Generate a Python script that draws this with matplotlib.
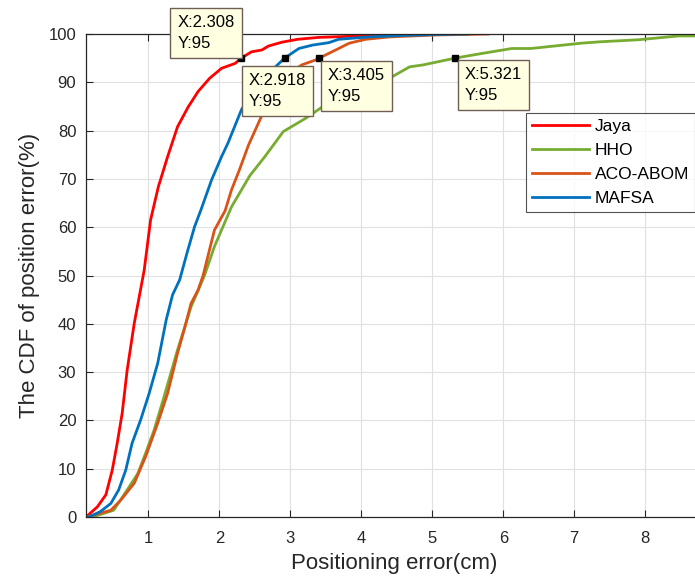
import matplotlib
matplotlib.use("Agg")
import matplotlib.pyplot as plt

plt.rcParams['font.family'] = ['Liberation Sans', 'DejaVu Sans']

# ---- data ----
jaya_x = [0.12, 0.28, 0.40, 0.49, 0.56, 0.63, 0.70, 0.80, 0.87, 0.94, 1.03, 1.14, 1.27, 1.41,
          1.56, 1.70, 1.86, 2.03, 2.22, 2.308, 2.45, 2.60, 2.69, 2.88, 3.10, 3.40, 3.80, 4.11, 4.73]
jaya_y = [0, 2.1, 4.6, 9.7, 15.3, 21.5, 30.4, 40.1, 45.6, 51.1, 61.5, 68.4, 74.6, 80.8,
          84.9, 88.1, 90.8, 92.9, 93.9, 95.0, 96.3, 96.7, 97.5, 98.3, 98.9, 99.3, 99.5, 99.6, 100]

hho_x = [0.21, 0.51, 0.70, 0.85, 0.96, 1.08, 1.22, 1.41, 1.60, 1.79, 1.93, 2.17, 2.43, 2.64,
         2.90, 3.21, 3.45, 3.87, 4.44, 4.68, 4.87, 5.321, 5.63, 6.12, 6.39, 7.10, 7.38, 7.90, 8.47, 8.80]
hho_y = [0, 1.4, 5.6, 9.0, 13.2, 18.0, 24.9, 34.6, 43.5, 50.0, 56.0, 64.2, 70.7, 74.6,
         79.8, 82.5, 84.9, 88.1, 91.2, 93.2, 93.6, 95.0, 95.8, 97.0, 97.0, 98.1, 98.4, 98.8, 99.6, 99.6]

aco_x = [0.13, 0.47, 0.61, 0.80, 0.96, 1.13, 1.27, 1.41, 1.51, 1.60, 1.70, 1.77, 1.93, 2.08,
         2.17, 2.28, 2.41, 2.60, 2.79, 2.98, 3.16, 3.35, 3.405, 3.64, 3.83, 4.06, 4.40, 5.06, 5.79]
aco_y = [0, 1.4, 3.5, 7.0, 12.5, 19.4, 25.6, 33.9, 39.1, 44.2, 47.0, 50.0, 59.4, 63.4,
         67.7, 71.8, 77.0, 83.2, 88.8, 91.8, 93.6, 94.6, 95.0, 96.7, 98.1, 98.9, 99.4, 99.8, 100]

mafsa_x = [0.16, 0.32, 0.47, 0.58, 0.68, 0.77, 0.89, 1.01, 1.13, 1.25, 1.34, 1.44, 1.55, 1.65,
           1.74, 1.89, 2.03, 2.12, 2.31, 2.53, 2.74, 2.918, 3.12, 3.31, 3.54, 3.68, 4.11, 4.60, 5.06, 5.51]
mafsa_y = [0, 1.1, 2.8, 5.6, 9.7, 15.3, 20.1, 25.6, 31.8, 40.8, 46.0, 49.1, 55.0, 60.1,
           63.6, 69.8, 74.6, 77.4, 84.3, 89.8, 92.5, 95.0, 97.0, 97.7, 98.2, 98.9, 99.4, 99.7, 99.9, 100]

series_names = ['Jaya', 'HHO', 'ACO-ABOM', 'MAFSA']
series_colors = ['#FF0000', '#77AC30', '#D95319', '#0072BD']

tip_x = [2.308, 5.321, 3.405, 2.918]
tip_y = [95, 95, 95, 95]
# datatip box offsets (pixels, relative to the marker; +y down)
tip_offsets = [(-71, -50), (3, 2), (2, 3), (-43, 8)]

x_ticks = [1, 2, 3, 4, 5, 6, 7, 8]
y_ticks = list(range(0, 101, 10))

W, H = 695, 579
fig = plt.figure(figsize=(W / 100, H / 100), dpi=100)
ax = fig.add_axes([86 / W, (H - 517) / H, (W - 86) / W + 0.01, (517 - 34) / H])

axc = '#262626'
xs = [jaya_x, hho_x, aco_x, mafsa_x]
ys = [jaya_y, hho_y, aco_y, mafsa_y]
for x, y, n, c in zip(xs, ys, series_names, series_colors):
    ax.plot(x, y, color=c, lw=2.0, label=n)

ax.set_xlim(0.12, 8.80)
ax.set_ylim(0, 100)
ax.set_xticks(x_ticks)
ax.set_yticks(y_ticks)
ax.grid(True, color='#e0e0e0', lw=0.8)
ax.set_axisbelow(True)
ax.tick_params(direction='in', length=5, width=0.8, colors=axc, labelsize=12,
               top=True, right=True)
ax.tick_params(axis='x', pad=10)
ax.tick_params(axis='y', pad=7)
for s in ax.spines.values():
    s.set_color(axc)
    s.set_linewidth(0.9)

ax.set_xlabel('Positioning error(cm)', fontsize=16, color=axc, labelpad=5)
ax.set_ylabel('The CDF of position error(%)', fontsize=16, color=axc, labelpad=6)

leg = ax.legend(loc='upper left', bbox_to_anchor=((521 - 86) / (W - 86), (517 - 113) / (517 - 34)),
                fontsize=12.5, frameon=True, fancybox=False, handlelength=3.3,
                handletextpad=0.3, borderpad=0.35, labelspacing=0.5, borderaxespad=0)
leg.get_frame().set_edgecolor('#262626')
leg.get_frame().set_linewidth(0.8)

fs_tip = 12
pad_px = 7
for tx, ty, (dx, dy) in zip(tip_x, tip_y, tip_offsets):
    ax.plot([tx], [ty], marker='s', color='black', ms=5, zorder=5, clip_on=False)
    ax.annotate(f'X:{tx}\nY:{ty}', xy=(tx, ty),
                xytext=((dx + pad_px) * 0.72, -(dy + pad_px) * 0.72),
                textcoords='offset points', ha='left', va='top', fontsize=fs_tip,
                color='black', linespacing=1.45, annotation_clip=False, zorder=6,
                bbox=dict(boxstyle='square,pad=0.42', fc='#FFFFE1', ec='#6E5E55', lw=1.0))

fig.savefig('out.png', dpi=100)
